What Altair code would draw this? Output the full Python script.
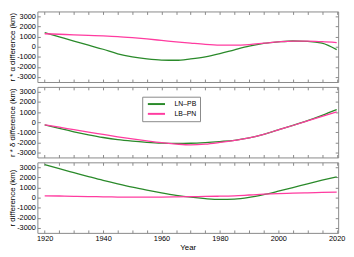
import altair as alt
import pandas as pd

# ---- data ----
years = list(range(1920, 2021, 5))
series_names = ["LN–PB", "LB–PN"]
colors = ["#2a8a2a", "#ff3ca0"]

alpha_lnpb = [1400, 980, 560, 150, -250, -700, -1000, -1200, -1320, -1340, -1200, -1000,
              -680, -300, 60, 330, 480, 570, 540, 350, -290]
alpha_lbpn = [1290, 1240, 1180, 1130, 1080, 1010, 900, 770, 630, 490, 360, 240,
              170, 160, 220, 350, 480, 560, 560, 500, 410]

delta_lnpb = [-270, -620, -950, -1250, -1520, -1740, -1890, -2000, -2080, -2110, -2090, -2020,
              -1920, -1800, -1560, -1200, -760, -320, 150, 680, 1250]
delta_lbpn = [-270, -500, -750, -990, -1220, -1450, -1660, -1860, -2040, -2170, -2250, -2180,
              -2010, -1810, -1560, -1200, -760, -330, 120, 570, 1020]

r_lnpb = [3270, 2870, 2480, 2090, 1710, 1360, 1030, 740, 470, 230, 40, -100,
          -180, -150, 20, 300, 640, 1000, 1370, 1730, 2070]
r_lbpn = [180, 160, 130, 100, 80, 60, 50, 50, 60, 80, 100, 120,
          140, 180, 260, 340, 400, 440, 480, 510, 540]

y_titles = ["r * α difference (km)", "r * δ difference (km)", "r difference (km)"]
x_title = "Year"
x_ticks = list(range(1920, 2021, 5))
y_ticks = [-3000, -2000, -1000, 0, 1000, 2000, 3000]

X_DOMAIN = [1917.5, 2020.5]
Y_DOMAIN = [-3500, 3500]
W, H = 307, 72
TICK = 3
FONT = "Liberation Sans"
GRAY = "#888888"


def make_df(a, b):
    rows = []
    for name, vals in zip(series_names, (a, b)):
        for yr, v in zip(years, vals):
            rows.append({"year": yr, "value": v, "pair": name})
    return pd.DataFrame(rows)


def panel(df, ytitle, bottom=False, legend=False):
    if bottom:
        xaxis = alt.Axis(values=x_ticks, format="d", domain=False, offset=-TICK, tickSize=TICK,
                         labelExpr="datum.value % 20 == 0 ? datum.label : ''",
                         title=x_title, labelPadding=2, titlePadding=1)
    else:
        xaxis = alt.Axis(values=x_ticks, labels=False, domain=False, offset=-TICK, tickSize=TICK,
                         title=None)
    yaxis = alt.Axis(values=y_ticks, format="d", domain=False, offset=-TICK, tickSize=TICK,
                     labelExpr="replace(datum.label, '−', '-')", title=ytitle,
                     labelPadding=2, titlePadding=0)
    if legend:
        leg = alt.Legend(orient="none", legendX=107, legendY=10, title=None,
                         symbolType="M-2.5,0H2.5", symbolSize=49, symbolStrokeWidth=2,
                         symbolOffset=7, labelOffset=14, labelFontSize=7, labelFont=FONT,
                         strokeColor=GRAY, fillColor="white", padding=3, rowPadding=1)
    else:
        leg = None
    xs = alt.Scale(domain=X_DOMAIN, nice=False, zero=False)
    ys = alt.Scale(domain=Y_DOMAIN, nice=False)
    base = alt.Chart(df)
    lines = base.mark_line(strokeWidth=1.3, interpolate="monotone").encode(
        x=alt.X("year:Q", scale=xs, axis=xaxis),
        y=alt.Y("value:Q", scale=ys, axis=yaxis),
        color=alt.Color("pair:N", scale=alt.Scale(domain=series_names, range=colors),
                        sort=series_names, legend=leg),
    )
    mirror = base.mark_point(opacity=0).encode(
        x=alt.X("year:Q", scale=xs,
                axis=alt.Axis(orient="top", values=x_ticks, labels=False, domain=False,
                              offset=-TICK, tickSize=TICK, title=None)),
        y=alt.Y("value:Q", scale=ys,
                axis=alt.Axis(orient="right", values=y_ticks, labels=False, domain=False,
                              offset=-TICK, tickSize=TICK, title=None)),
    )
    return alt.layer(lines, mirror).resolve_scale(x="independent", y="independent").properties(
        width=W, height=H)


p1 = panel(make_df(alpha_lnpb, alpha_lbpn), y_titles[0])
p2 = panel(make_df(delta_lnpb, delta_lbpn), y_titles[1], legend=True)
p3 = panel(make_df(r_lnpb, r_lbpn), y_titles[2], bottom=True)

chart = alt.vconcat(p1, p2, p3, spacing=3).resolve_scale(color="independent").resolve_legend(
    color="independent").properties(padding=0).configure_view(
    stroke=GRAY, strokeWidth=1).configure_axis(
    labelFont=FONT, titleFont=FONT, labelFontSize=7.5, titleFontSize=8,
    titleFontWeight="normal", tickColor=GRAY, labelColor="black", titleColor="black",
    grid=False)

chart.save("out.html", embed_options={"renderer": "svg", "actions": False})
